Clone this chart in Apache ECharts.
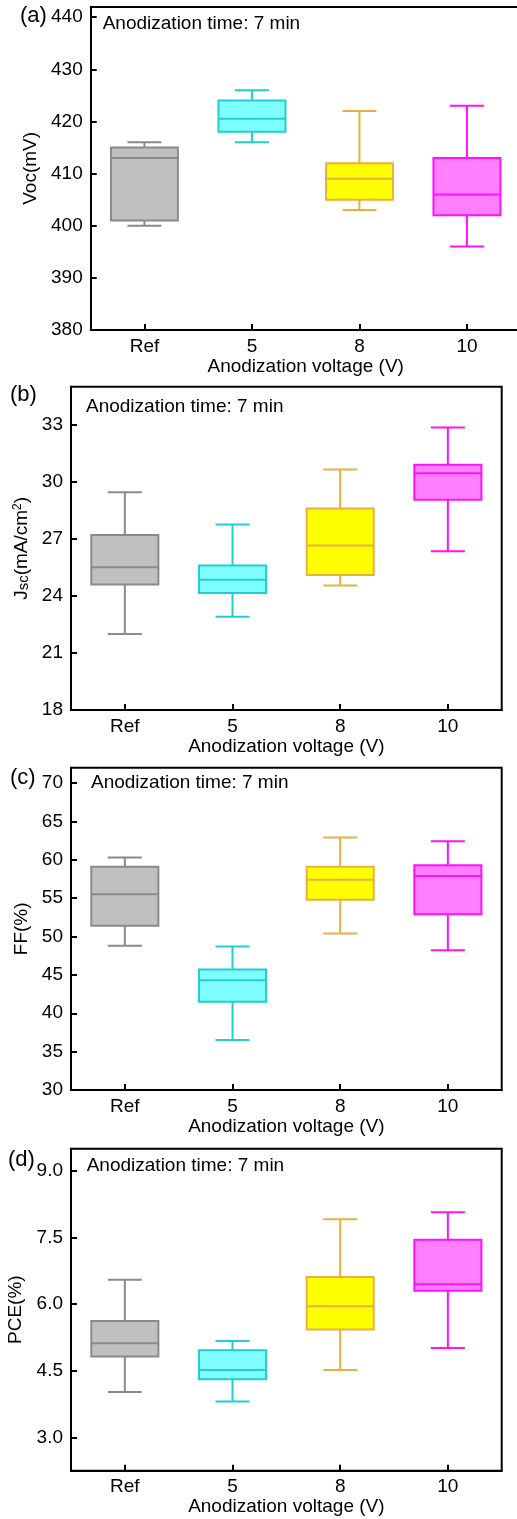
<!DOCTYPE html>
<html>
<head>
<meta charset="utf-8">
<script src="https://cdn.jsdelivr.net/npm/echarts@6/dist/echarts.min.js"></script>
<style>html,body{margin:0;padding:0;background:#fff;overflow:hidden}#c{width:517px;height:1519px}</style>
</head>
<body>
<div id="c"></div>
<script>
// ---- data ----
const categories = ['Ref', '5', '8', '10'];

// (a) Voc (mV)
const vocMin    = [400, 416, 403, 396];
const vocQ1     = [401, 418, 405, 402];
const vocMedian = [413, 420.5, 409, 406];
const vocQ3     = [415, 424, 412, 413];
const vocMax    = [416, 426, 422, 423];
const vocTicks  = [380, 390, 400, 410, 420, 430, 440];

// (b) Jsc (mA/cm2)
const jscMin    = [22.0, 22.9, 24.55, 26.35];
const jscQ1     = [24.6, 24.15, 25.1, 29.05];
const jscMedian = [25.5, 24.85, 26.65, 30.45];
const jscQ3     = [27.2, 25.6, 28.6, 30.9];
const jscMax    = [29.45, 27.75, 30.65, 32.85];
const jscTicks  = [18, 21, 24, 27, 30, 33];

// (c) FF (%)
const ffMin    = [48.8, 36.5, 50.4, 48.2];
const ffQ1     = [51.4, 41.5, 54.8, 52.9];
const ffMedian = [55.5, 44.3, 57.4, 57.9];
const ffQ3     = [59.1, 45.7, 59.1, 59.3];
const ffMax    = [60.3, 48.7, 62.9, 62.4];
const ffTicks  = [30, 35, 40, 45, 50, 55, 60, 65, 70];

// (d) PCE (%)
const pceMin    = [4.02, 3.81, 4.52, 5.01];
const pceQ1     = [4.82, 4.31, 5.43, 6.30];
const pceMedian = [5.12, 4.52, 5.95, 6.45];
const pceQ3     = [5.62, 4.96, 6.61, 7.45];
const pceMax    = [6.55, 5.17, 7.91, 8.07];
const pceTicks  = [3.0, 4.5, 6.0, 7.5, 9.0];

const xName = 'Anodization voltage (V)';
const note = 'Anodization time: 7 min';

// ---- styles ----
const FONT = '"Liberation Sans", Arial, Helvetica, sans-serif';
const fills   = ['#c0c0c0', '#80ffff', '#ffff00', '#ff80ff'];
const strokes = ['#8a8a8a', '#1fcfcf', '#e8b040', '#ff10ff'];

function buildRows(mn, q1, md, q3, mx) {
  return categories.map((c, i) => [i, mn[i], q1[i], md[i], q3[i], mx[i]]);
}

function renderBox(params, api) {
  const i = api.value(0);
  const pMin = api.coord([i, api.value(1)]);
  const pQ1  = api.coord([i, api.value(2)]);
  const pMd  = api.coord([i, api.value(3)]);
  const pQ3  = api.coord([i, api.value(4)]);
  const pMax = api.coord([i, api.value(5)]);
  const band = api.size([1, 0])[0];
  const bw = band * 0.623, cw = band * 0.316;
  const x = pMin[0];
  const ls = {stroke: strokes[i], lineWidth: 2};
  return {
    type: 'group',
    children: [
      {type: 'line', shape: {x1: x, y1: pMax[1], x2: x, y2: pQ3[1]}, style: ls},
      {type: 'line', shape: {x1: x, y1: pQ1[1], x2: x, y2: pMin[1]}, style: ls},
      {type: 'line', shape: {x1: x - cw / 2, y1: pMax[1], x2: x + cw / 2, y2: pMax[1]}, style: ls},
      {type: 'line', shape: {x1: x - cw / 2, y1: pMin[1], x2: x + cw / 2, y2: pMin[1]}, style: ls},
      {type: 'rect', shape: {x: x - bw / 2, y: pQ3[1], width: bw, height: pQ1[1] - pQ3[1]},
        style: {fill: fills[i], stroke: strokes[i], lineWidth: 2}},
      {type: 'line', shape: {x1: x - bw / 2, y1: pMd[1], x2: x + bw / 2, y2: pMd[1]}, style: ls}
    ]
  };
}

const panels = [
  {grid: {left: 90.7, top: 6.7, width: 430, height: 323.3}, frame: false, min: 380, max: 442, ticks: vocTicks,
   fmt: v => String(v), name: 'Voc(mV)', nameGap: 39,
   rows: buildRows(vocMin, vocQ1, vocMedian, vocQ3, vocMax)},
  {grid: {left: 71, top: 386.7, width: 430.7, height: 323.3}, frame: true, min: 18, max: 35, ticks: jscTicks,
   fmt: v => String(v), name: 'J{sub|sc}(mA/cm{sup|2})', nameGap: 32,
   rows: buildRows(jscMin, jscQ1, jscMedian, jscQ3, jscMax)},
  {grid: {left: 71, top: 767.7, width: 430.7, height: 322.3}, frame: true, min: 30, max: 72, ticks: ffTicks,
   fmt: v => String(v), name: 'FF(%)', nameGap: 32,
   rows: buildRows(ffMin, ffQ1, ffMedian, ffQ3, ffMax)},
  {grid: {left: 71, top: 1148.7, width: 430.7, height: 322}, frame: true, min: 2.25, max: 9.5, ticks: pceTicks,
   fmt: v => Number(v).toFixed(1), name: 'PCE(%)', nameGap: 32,
   rows: buildRows(pceMin, pceQ1, pceMedian, pceQ3, pceMax)}
];

const axisLine = {show: true, lineStyle: {color: '#000', width: 2}};
const xAxes = panels.map((p, k) => ({
  type: 'category', gridIndex: k, data: categories, boundaryGap: true,
  axisLine: axisLine,
  axisTick: {show: true, inside: true, alignWithLabel: true, length: 6, lineStyle: {color: '#000', width: 2}},
  axisLabel: {color: '#000', fontSize: 19, fontFamily: FONT, margin: 7},
  splitLine: {show: false},
  name: xName, nameLocation: 'middle', nameGap: 27,
  nameTextStyle: {color: '#000', fontSize: 19, fontFamily: FONT}
}));
// top frame line of panel (a) (its right edge lies outside the picture)
xAxes.push({
  type: 'category', gridIndex: 0, position: 'top', data: categories, boundaryGap: true,
  axisLine: axisLine, axisTick: {show: false}, axisLabel: {show: false}, splitLine: {show: false}
});

const option = {
  backgroundColor: '#fff',
  animation: false,
  grid: panels.map(p => Object.assign({show: p.frame, borderColor: '#000', borderWidth: 2,
    backgroundColor: 'transparent', containLabel: false, outerBoundsMode: 'none'}, p.grid)),
  xAxis: xAxes,
  yAxis: panels.map((p, k) => ({
    type: 'value', gridIndex: k, min: p.min, max: p.max,
    axisLine: axisLine,
    axisTick: {show: true, inside: true, length: 6, customValues: p.ticks, lineStyle: {color: '#000', width: 2}},
    axisLabel: {color: '#000', fontSize: 19, fontFamily: FONT, margin: 8, customValues: p.ticks, formatter: p.fmt},
    splitLine: {show: false},
    name: p.name, nameLocation: 'middle', nameGap: p.nameGap,
    nameTextStyle: {color: '#000', fontSize: 19, fontFamily: FONT,
      rich: {
        sub: {fontSize: 15, fontFamily: FONT, color: '#000', verticalAlign: 'bottom', lineHeight: 13},
        sup: {fontSize: 12, fontFamily: FONT, color: '#000', verticalAlign: 'top', lineHeight: 12}
      }}
  })),
  series: panels.map((p, k) => ({
    type: 'custom', xAxisIndex: k, yAxisIndex: k,
    renderItem: renderBox, data: p.rows, clip: true,
    encode: {x: 0, y: [1, 2, 3, 4, 5]}
  })),
  graphic: [
    // panel (a) has no visible right frame: keep the strip at the picture's right edge blank
    {type: 'rect', z: 100, shape: {x: 506, y: 8.5, width: 12, height: 320}, style: {fill: '#fff'}},
    {type: 'text', x: 20, y: 15.7, style: {text: '(a)', fontSize: 22, fontFamily: FONT, fill: '#000', verticalAlign: 'middle'}},
    {type: 'text', x: 10, y: 395, style: {text: '(b)', fontSize: 22, fontFamily: FONT, fill: '#000', verticalAlign: 'middle'}},
    {type: 'text', x: 10, y: 778, style: {text: '(c)', fontSize: 22, fontFamily: FONT, fill: '#000', verticalAlign: 'middle'}},
    {type: 'text', x: 8, y: 1160, style: {text: '(d)', fontSize: 22, fontFamily: FONT, fill: '#000', verticalAlign: 'middle'}},
    {type: 'text', x: 102.7, y: 24, style: {text: note, fontSize: 19, fontFamily: FONT, fill: '#000', verticalAlign: 'middle'}},
    {type: 'text', x: 86, y: 406.7, style: {text: note, fontSize: 19, fontFamily: FONT, fill: '#000', verticalAlign: 'middle'}},
    {type: 'text', x: 91, y: 782.7, style: {text: note, fontSize: 19, fontFamily: FONT, fill: '#000', verticalAlign: 'middle'}},
    {type: 'text', x: 86.7, y: 1166, style: {text: note, fontSize: 19, fontFamily: FONT, fill: '#000', verticalAlign: 'middle'}}
  ]
};

const chart = echarts.init(document.getElementById('c'), null, {renderer: 'canvas', width: 517, height: 1519});
chart.setOption(option);
</script>
</body>
</html>
